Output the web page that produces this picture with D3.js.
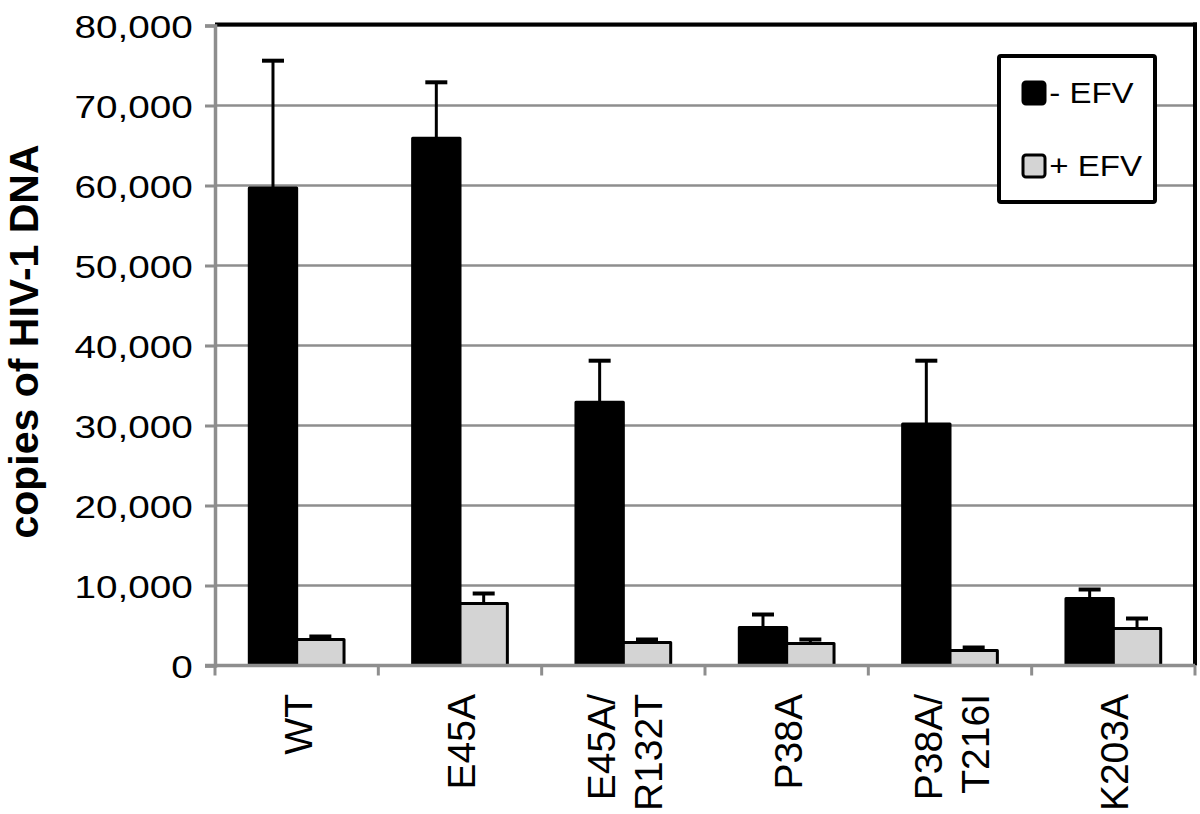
<!DOCTYPE html>
<html>
<head>
<meta charset="utf-8">
<script src="https://cdn.jsdelivr.net/npm/d3@7"></script>
<style>
  body { margin: 0; background: #fff; }
  text { font-family: "Liberation Sans", Arial, sans-serif; fill: #000; }
</style>
</head>
<body>
<script>
// copies of HIV-1 DNA, with and without efavirenz

var categories = ["WT", "E45A", "E45A/R132T", "P38A", "P38A/T216I", "K203A"];
var seriesNames = ["- EFV", "+ EFV"];
var minusEFV = [59700, 65900, 32900, 4750, 30200, 8375];
var minusErr = [15900, 7000, 5200, 1625, 7900, 1125];
var plusEFV = [3250, 7750, 2875, 2750, 1875, 4625];
var plusErr = [375, 1250, 375, 500, 375, 1250];
var yTicks = [0, 10000, 20000, 30000, 40000, 50000, 60000, 70000, 80000];

var colors = {"- EFV": "#000", "+ EFV": "#d4d4d4"};
var grey = "#8e8e8e";

var width = 1200, height = 814;
var plotLeft = 215, plotRight = 1195, plotTop = 25.5, plotBottom = 665.5;

var svg = d3.select("body").append("svg")
  .attr("width", width)
  .attr("height", height);

var x0 = d3.scaleBand().domain(categories).range([plotLeft, plotRight]);
var bw = x0.bandwidth();
var x1 = d3.scaleBand().domain(seriesNames).range([bw * 0.21, bw * 0.79]);
var y = d3.scaleLinear().domain([0, 80000]).range([plotBottom, plotTop]);

// gridlines
svg.append("g").selectAll("line")
  .data(yTicks.slice(1))
  .enter().append("line")
  .attr("x1", plotLeft).attr("x2", plotRight)
  .attr("y1", function(d) { return y(d); })
  .attr("y2", function(d) { return y(d); })
  .attr("stroke", grey).attr("stroke-width", 2.5);

// rows of data
var rows = categories.map(function(c, i) {
  return [
    {cat: c, s: "- EFV", v: minusEFV[i], e: minusErr[i]},
    {cat: c, s: "+ EFV", v: plusEFV[i], e: plusErr[i]}
  ];
});
var flat = [].concat.apply([], rows);

function cx(d) { return x0(d.cat) + x1(d.s) + x1.bandwidth() / 2; }

// error bars first so the bar outline sits on top
var err = svg.append("g");
err.selectAll("line.stem")
  .data(flat).enter().append("line")
  .attr("class", "stem")
  .attr("x1", cx).attr("x2", cx)
  .attr("y1", function(d) { return y(d.v); })
  .attr("y2", function(d) { return y(d.v + d.e); })
  .attr("stroke", "#000").attr("stroke-width", 3);
err.selectAll("line.cap")
  .data(flat).enter().append("line")
  .attr("class", "cap")
  .attr("x1", function(d) { return cx(d) - 11; })
  .attr("x2", function(d) { return cx(d) + 11; })
  .attr("y1", function(d) { return y(d.v + d.e); })
  .attr("y2", function(d) { return y(d.v + d.e); })
  .attr("stroke", "#000").attr("stroke-width", 4);

// bars
svg.append("g").selectAll("rect")
  .data(flat).enter().append("rect")
  .attr("x", function(d) { return x0(d.cat) + x1(d.s); })
  .attr("y", function(d) { return y(d.v); })
  .attr("width", x1.bandwidth())
  .attr("height", function(d) { return plotBottom - y(d.v); })
  .attr("fill", function(d) { return colors[d.s]; })
  .attr("stroke", "#000").attr("stroke-width", 3)
  .attr("stroke-linejoin", "round");

// frame: black top and right
svg.append("line")
  .attr("x1", plotLeft).attr("x2", plotRight + 2)
  .attr("y1", plotTop - 1).attr("y2", plotTop - 1)
  .attr("stroke", "#000").attr("stroke-width", 4);
svg.append("line")
  .attr("x1", plotRight).attr("x2", plotRight)
  .attr("y1", plotTop - 3).attr("y2", plotBottom)
  .attr("stroke", "#000").attr("stroke-width", 4);

// y axis
var yAxis = svg.append("g")
  .attr("transform", "translate(" + plotLeft + ",0)")
  .call(d3.axisLeft(y).tickValues(yTicks).tickSize(10).tickPadding(0)
    .tickFormat(d3.format(",")));
yAxis.select(".domain").attr("stroke", grey).attr("stroke-width", 3.5);
yAxis.selectAll(".tick line").attr("stroke", grey).attr("stroke-width", 3);
yAxis.selectAll(".tick text")
  .attr("x", -18.3)
  .attr("dy", "0.36em")
  .attr("transform", "scale(1.21,1)")
  .style("font-size", "32px")
  .style("font-family", "'Liberation Sans', Arial, sans-serif");

// x axis
var xAxis = svg.append("g")
  .attr("transform", "translate(0," + plotBottom + ")");
xAxis.append("line")
  .attr("x1", plotLeft - 10).attr("x2", plotRight)
  .attr("y1", 0).attr("y2", 0)
  .attr("stroke", grey).attr("stroke-width", 3.5);
xAxis.selectAll("line.tk")
  .data(categories.concat(["end"])).enter().append("line")
  .attr("class", "tk")
  .attr("x1", function(d, i) { return plotLeft + i * bw; })
  .attr("x2", function(d, i) { return plotLeft + i * bw; })
  .attr("y1", 0).attr("y2", 10)
  .attr("stroke", grey).attr("stroke-width", 3);

// category labels, rotated, split after the slash
var labels = svg.append("g").selectAll("g")
  .data(categories).enter().append("g")
  .attr("transform", function(d) {
    return "translate(" + (x0(d) + bw / 2) + ",694) rotate(-90)";
  });
labels.each(function(d) {
  var k = d.indexOf("/");
  var parts = k > 0 ? [d.slice(0, k + 1), d.slice(k + 1)] : [d];
  var g = d3.select(this);
  parts.forEach(function(p, j) {
    var off = parts.length === 1 ? 15 : (j === 0 ? -8 : 39);
    g.append("text")
      .attr("x", 0)
      .attr("y", off)
      .attr("text-anchor", "end")
      .style("font-size", "39px")
      .text(p);
  });
});

// y title
svg.append("text")
  .attr("transform", "translate(38,341.5) rotate(-90)")
  .attr("text-anchor", "middle")
  .style("font-size", "41px")
  .style("font-weight", "bold")
  .text("copies of HIV-1 DNA");

// legend
var legend = svg.append("g");
legend.append("rect")
  .attr("x", 999).attr("y", 56)
  .attr("width", 156).attr("height", 146)
  .attr("fill", "#fff")
  .attr("stroke", "#000").attr("stroke-width", 4)
  .attr("rx", 2);
var items = legend.selectAll("g.item")
  .data(seriesNames).enter().append("g")
  .attr("class", "item")
  .attr("transform", function(d, i) { return "translate(1023," + (82 + i * 73) + ")"; });
items.append("rect")
  .attr("width", 22).attr("height", 22)
  .attr("rx", 3)
  .attr("fill", function(d) { return colors[d]; })
  .attr("stroke", "#000").attr("stroke-width", 3);
items.append("text")
  .attr("x", 23)
  .attr("y", 21)
  .attr("transform", "scale(1.14,1)")
  .style("font-size", "29px")
  .text(function(d) { return d; });
</script>
</body>
</html>
